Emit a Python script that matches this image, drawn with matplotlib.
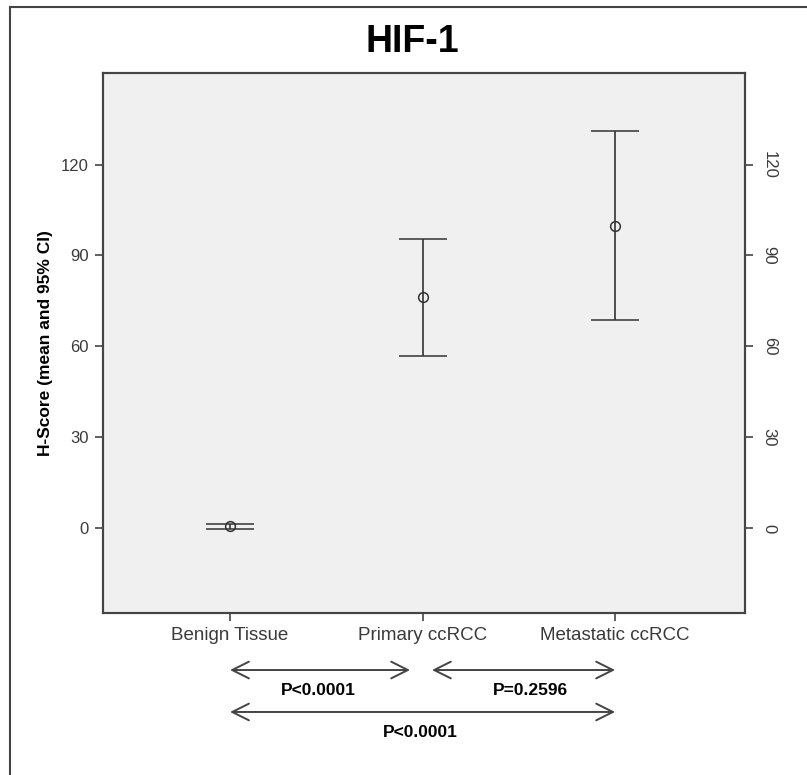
import numpy as np
import matplotlib.pyplot as plt
from matplotlib.lines import Line2D

plt.rcParams['font.family'] = ['Liberation Sans', 'DejaVu Sans']

groups = ['Benign Tissue', 'Primary ccRCC', 'Metastatic ccRCC']
means = [0.6, 76.2, 99.7]
ci_low = [-0.3, 56.8, 68.6]
ci_high = [1.5, 95.4, 131.0]
yticks = [0, 30, 60, 90, 120]
pvals = ['P<0.0001', 'P=0.2596', 'P<0.0001']

fig = plt.figure(figsize=(8.07, 7.75), dpi=100)
ax = fig.add_axes([103/807, 1 - 613/775, 642/807, 540/775])
ax.set_facecolor('#f0f0f0')

x = np.arange(len(groups))
m = np.array(means)
err = np.vstack([m - np.array(ci_low), np.array(ci_high) - m])
ax.errorbar(x, m, yerr=err, fmt='o', mfc='none', mec='#333333', ms=7,
            mew=1.1, ecolor='#333333', elinewidth=1.2, capsize=17,
            capthick=1.2)

ax.set_xlim(-0.66, 2.675)
ax.set_ylim(-28, 150.2)
ax.set_xticks(x)
ax.set_xticklabels(groups, fontsize=13.5, color='#3a3a3a')
ax.set_yticks(yticks)
ax.set_yticklabels([str(t) for t in yticks], fontsize=12, color='#3a3a3a')
ax.tick_params(axis='both', direction='out', length=6, width=1.2,
               color='#444444', pad=4)

ax2 = ax.twinx()
ax2.set_ylim(ax.get_ylim())
ax2.set_yticks(yticks)
ax2.set_yticklabels([str(t) for t in yticks], fontsize=12,
                    color='#3a3a3a', rotation=270, va='center')
ax2.tick_params(axis='y', direction='out', length=6, width=1.2,
                color='#444444', pad=6)

for a in (ax, ax2):
    for s in a.spines.values():
        s.set_color('#444444')
        s.set_linewidth(1.5)

ax.set_ylabel('H-Score (mean and 95% CI)', fontsize=12.5, fontweight='bold',
              labelpad=6)

fig.text(412/807, 1 - 42/775, 'HIF-1', ha='center', va='center',
         fontsize=27, fontweight='bold')

# comparison arrows below the axis
tr = ax.get_xaxis_transform()
arrow = dict(arrowstyle='<->,head_length=0.6,head_width=0.3',
             color='#444444', lw=1.4, mutation_scale=20,
             shrinkA=0, shrinkB=0)
ax.annotate('', xy=(0, -0.1056), xytext=(0.935, -0.1056), xycoords=tr,
            textcoords=tr, arrowprops=arrow, annotation_clip=False)
ax.annotate('', xy=(1.049, -0.1056), xytext=(2, -0.1056), xycoords=tr,
            textcoords=tr, arrowprops=arrow, annotation_clip=False)
ax.annotate('', xy=(0, -0.1833), xytext=(2, -0.1833), xycoords=tr,
            textcoords=tr, arrowprops=arrow, annotation_clip=False)
ax.text(0.457, -0.1426, pvals[0], transform=tr, ha='center', va='center',
        fontsize=12.5, fontweight='bold')
ax.text(1.558, -0.1426, pvals[1], transform=tr, ha='center', va='center',
        fontsize=12.5, fontweight='bold')
ax.text(0.987, -0.2222, pvals[2], transform=tr, ha='center', va='center',
        fontsize=12.5, fontweight='bold')

# outer frame (only top and left edges are visible)
fig.add_artist(Line2D([10/807, 10/807], [0, 1 - 7/775], color='#444444',
                      lw=1.5, transform=fig.transFigure))
fig.add_artist(Line2D([10/807, 1], [1 - 7/775, 1 - 7/775], color='#444444',
                      lw=1.5, transform=fig.transFigure))

fig.savefig('out.png', dpi=100)
